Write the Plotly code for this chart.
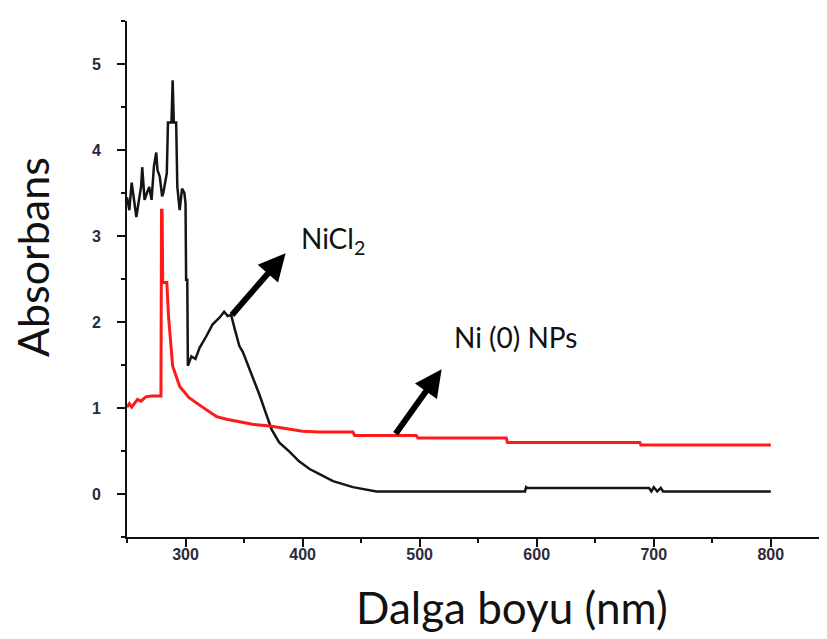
import plotly.graph_objects as go

# NiCl2 spectrum (black)
nicl2_wl = [250, 252, 254, 256, 258, 260, 262, 263, 265, 267, 269, 271, 273, 275, 276, 278, 280, 281,
            284, 285, 288, 289, 290, 292, 293, 295, 297, 299, 300, 300.5, 301.5, 302,
            305, 308.5, 312, 318, 323, 329, 333, 336, 339, 342, 346, 349, 352, 357, 363, 369,
            373.5, 380, 389, 397, 406, 414.5, 426, 443, 463, 590, 591, 592, 696, 698, 700, 703,
            706, 708, 800]
nicl2_abs = [3.45, 3.30, 3.62, 3.40, 3.22, 3.40, 3.57, 3.80, 3.42, 3.50, 3.57, 3.42, 3.81, 3.97, 3.77,
             3.69, 3.46, 3.50, 3.73, 4.32, 4.32, 4.81, 4.32, 4.32, 3.57, 3.30, 3.55, 3.50, 3.38, 2.49,
             2.49, 1.49, 1.60, 1.57, 1.70, 1.84, 1.97, 2.05, 2.12, 2.07, 2.08, 1.92, 1.72, 1.65, 1.55,
             1.37, 1.16, 0.93, 0.75, 0.60, 0.49, 0.38, 0.29, 0.23, 0.15, 0.08, 0.03, 0.03, 0.08, 0.07,
             0.07, 0.03, 0.08, 0.03, 0.07, 0.03, 0.03]

# Ni(0) NPs spectrum (red)
nps_wl = [250, 252, 254, 259, 262, 266, 271, 277, 279, 279.5, 280, 280.5, 284, 285.5, 287.5, 288.5,
          289, 295, 303, 314.5, 326.5, 335, 346, 357, 372, 400, 414.5, 443, 444.5, 497, 498.5,
          574, 575, 688, 689, 800]
nps_abs = [1.01, 1.05, 1.01, 1.10, 1.08, 1.13, 1.14, 1.14, 1.14, 3.30, 3.30, 2.46, 2.46, 2.06, 1.76,
           1.53, 1.49, 1.25, 1.12, 1.01, 0.90, 0.87, 0.84, 0.81, 0.79, 0.73, 0.72, 0.72, 0.68, 0.68,
           0.65, 0.65, 0.60, 0.60, 0.57, 0.57]

x_ticks = [300, 400, 500, 600, 700, 800]
y_ticks = [0, 1, 2, 3, 4, 5]

fig = go.Figure()
fig.add_trace(go.Scatter(x=nicl2_wl, y=nicl2_abs, mode="lines",
                         line=dict(color="#151515", width=2.5), showlegend=False))
fig.add_trace(go.Scatter(x=nps_wl, y=nps_abs, mode="lines",
                         line=dict(color="#ff1a1a", width=3), showlegend=False))

tickfont = dict(family="Liberation Sans", size=16, color="#2b2b3b", weight="bold")

fig.update_layout(
    width=819, height=631,
    margin=dict(l=119, r=0, t=13, b=102),
    paper_bgcolor="white", plot_bgcolor="white",
    xaxis=dict(range=[250, 848], tickvals=x_ticks, ticktext=[str(v) for v in x_ticks],
               showgrid=False, zeroline=False, showline=True, linecolor="#111", linewidth=2,
               ticks="outside", ticklen=8, tickwidth=2, tickcolor="#111",
               tickfont=tickfont, ticklabelstandoff=-6,
               minor=dict(ticks="outside", ticklen=4, tickwidth=2, tickcolor="#111",
                          tickvals=[250, 350, 450, 550, 650, 750, 850])),
    yaxis=dict(range=[-0.5, 5.5], tickvals=y_ticks, ticktext=[str(v) for v in y_ticks],
               showgrid=False, zeroline=False, showline=True, linecolor="#111", linewidth=2,
               ticks="outside", ticklen=8, tickwidth=2, tickcolor="#111",
               tickfont=tickfont, ticklabelstandoff=13,
               minor=dict(ticks="outside", ticklen=4, tickwidth=2, tickcolor="#111",
                          tickvals=[-0.5, 0.5, 1.5, 2.5, 3.5, 4.5, 5.5])),
)

annfont = dict(family="Lato", size=28, color="#111")
fig.add_annotation(x=385.5, y=2.80, ax=338.5, ay=2.065, xref="x", yref="y", axref="x", ayref="y",
                   showarrow=True, arrowhead=2, arrowsize=0.9, arrowwidth=6, arrowcolor="black", text="")
fig.add_annotation(x=518.8, y=1.45, ax=478.6, ay=0.684, xref="x", yref="y", axref="x", ayref="y",
                   showarrow=True, arrowhead=2, arrowsize=0.9, arrowwidth=6, arrowcolor="black", text="")
fig.add_annotation(x=397.0, y=2.95, xref="x", yref="y", text="NiCl<sub>2</sub>", showarrow=False,
                   xanchor="left", yanchor="middle", font=annfont)
fig.add_annotation(x=527.5, y=1.83, xref="x", yref="y", text="Ni (0) NPs", showarrow=False,
                   xanchor="left", yanchor="middle", font=annfont)

titlefont = dict(family="Lato", size=43, color="#111")
fig.add_annotation(x=-0.1357, y=0.5426, xref="paper", yref="paper", text="Absorbans", textangle=-90,
                   showarrow=False, xanchor="center", yanchor="middle", font=titlefont)
fig.add_annotation(x=0.55, y=-0.1357, xref="paper", yref="paper", text="Dalga boyu (nm)",
                   showarrow=False, xanchor="center", yanchor="middle", font=dict(family="Lato", size=44, color="#111"))

fig.write_html("out.html")
